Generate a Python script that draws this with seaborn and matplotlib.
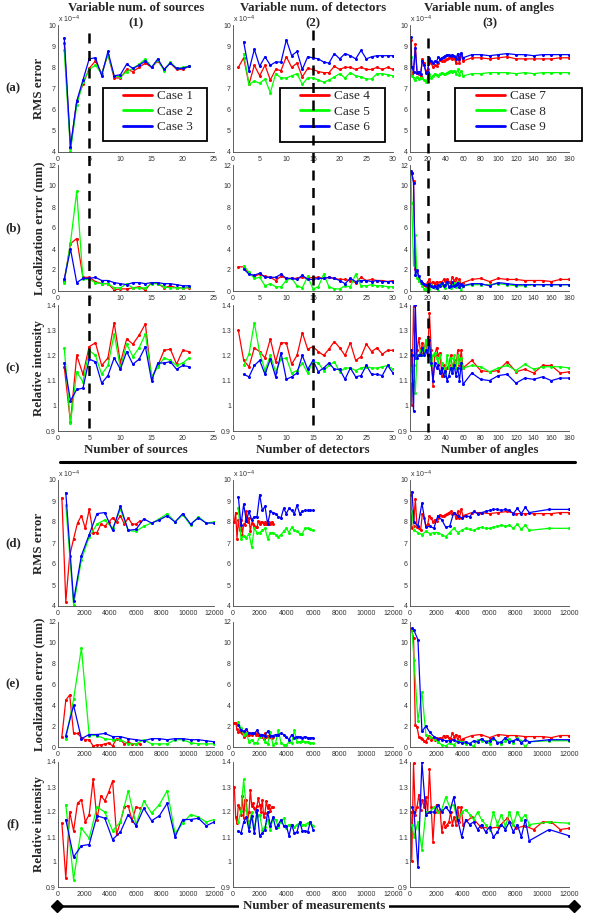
import matplotlib
matplotlib.use('Agg')
import matplotlib.pyplot as plt
import matplotlib.transforms as mtransforms
from matplotlib.lines import Line2D
from matplotlib.patches import Rectangle
from matplotlib.ticker import FuncFormatter
import numpy as np
import seaborn as sns

# ---------------- data ----------------
sources = [1, 2, 3, 4, 5, 6, 7, 8, 9, 10, 11, 12, 13, 14, 15, 16, 17, 18, 19, 20, 21]
detectors = [1, 2, 3, 4, 5, 6, 7, 8, 9, 10, 11, 12, 13, 14, 15, 16, 17, 18, 19, 20,
             21, 22, 23, 24, 25, 26, 27, 28, 29, 30]
angles = [1, 2, 4, 6, 8, 10, 12, 14, 16, 18, 20, 22, 24, 26, 28, 30, 32, 34, 36, 38, 40,
          42, 44, 46, 48, 50, 52, 54, 56, 58, 60, 70, 80, 90, 100, 110, 120, 130, 140,
          150, 160, 170, 180]

# measurements per source / detector / angle for each case
meas_per = [300, 600, 600, 100, 200, 200, 66.67, 150, 150]

# RMS error (x 1e-4)
rms_c1 = [9.15, 4.2, 6.4, 7.2, 7.95, 8.3, 7.7, 8.6, 7.5, 7.5, 7.9, 7.8, 8.0, 8.2, 8.0, 8.3, 7.9, 8.2, 7.9, 7.9, 8.05]
rms_c2 = [8.8, 4.05, 6.2, 7.3, 7.9, 8.1, 7.7, 8.6, 7.6, 7.55, 7.8, 7.95, 8.15, 8.4, 8.0, 8.35, 7.85, 8.25, 7.95, 8.0, 8.05]
rms_c3 = [9.4, 4.25, 6.4, 7.4, 8.4, 8.45, 7.6, 8.75, 7.6, 7.65, 8.15, 7.95, 8.1, 8.3, 8.0, 8.4, 7.9, 8.2, 7.95, 7.95, 8.05]
rms_c4 = [8.0, 8.45, 7.2, 8.1, 7.6, 8.1, 7.4, 7.9, 7.85, 8.5, 8.0, 8.2, 7.55, 7.95, 7.9, 7.8, 7.75, 7.75, 8.05, 7.9,
          8.0, 8.0, 7.9, 8.0, 7.9, 7.9, 8.0, 7.9, 8.0, 7.9]
rms_c5 = [8.65, 7.2, 7.35, 7.25, 7.45, 6.8, 7.7, 7.5, 7.5, 7.6, 7.7, 7.2, 7.5, 7.5, 7.4, 7.3, 7.4, 7.55, 7.7,
          7.5, 7.75, 7.6, 7.55, 7.45, 7.45, 7.7, 7.7, 7.65, 7.6]
rms_c6 = [9.2, 7.85, 8.85, 8.05, 8.5, 8.1, 8.25, 8.25, 9.3, 8.55, 8.75, 7.9, 8.5, 8.45, 8.4, 8.25, 8.2, 8.65, 8.4,
          8.65, 8.55, 8.4, 8.8, 8.4, 8.5, 8.55, 8.55, 8.55, 8.55]
rms_c7 = [9.3, 7.7, 7.8, 9.1, 7.75, 7.7, 7.6, 8.4, 8.2, 7.8, 7.9, 8.3, 8.2, 8.0, 8.1, 8.05, 8.2, 8.35, 8.3, 8.3,
          8.35, 8.4, 8.45, 8.5, 8.4, 8.45, 8.2, 8.5, 8.2, 8.6, 8.3,
          8.45, 8.45, 8.4, 8.45, 8.5, 8.4, 8.4, 8.4, 8.4, 8.4, 8.45, 8.45]
rms_c8 = [8.5, 7.6, 7.5, 7.4, 7.55, 7.45, 7.5, 7.5, 7.4, 7.3, 7.5, 7.7, 7.5, 7.6, 7.7, 7.65, 7.6, 7.7, 7.75, 7.7,
          7.7, 7.75, 7.8, 7.85, 7.8, 7.85, 7.7, 7.9, 7.65, 7.85, 7.6,
          7.7, 7.7, 7.75, 7.75, 7.75, 7.7, 7.75, 7.7, 7.75, 7.75, 7.75, 7.75]
rms_c9 = [9.45, 8.0, 7.8, 8.9, 7.75, 7.8, 7.7, 8.3, 8.1, 7.75, 7.8, 8.45, 8.3, 8.2, 8.3, 8.25, 8.5, 8.4, 8.45, 8.5,
          8.55, 8.6, 8.6, 8.55, 8.6, 8.55, 8.4, 8.65, 8.4, 8.7, 8.45,
          8.6, 8.6, 8.55, 8.6, 8.65, 8.6, 8.6, 8.55, 8.6, 8.6, 8.6, 8.6]

# localization error (mm)
loc_c1 = [1.0, 4.5, 5.0, 1.3, 1.3, 0.9, 0.7, 0.7, 0.1, 0.2, 0.2, 0.3, 0.4, 0.1, 0.8, 0.7, 0.3, 0.5, 0.3, 0.3, 0.3]
loc_c2 = [0.8, 4.6, 9.5, 1.1, 1.1, 0.8, 0.7, 0.7, 0.3, 0.3, 0.7, 0.3, 0.3, 0.3, 0.7, 0.7, 0.4, 0.3, 0.3, 0.3, 0.4]
loc_c3 = [1.1, 4.0, 0.8, 1.2, 1.2, 1.3, 1.0, 1.0, 0.8, 0.7, 0.6, 0.8, 0.8, 0.7, 0.8, 0.8, 0.7, 0.7, 0.6, 0.5, 0.5]
loc_c4 = [2.3, 2.3, 1.7, 1.4, 1.6, 1.4, 1.3, 1.0, 1.4, 1.2, 1.2, 1.2, 1.3, 1.2, 1.3, 1.3, 1.2, 1.3, 1.2, 1.1,
          1.1, 1.0, 0.8, 1.3, 1.0, 1.1, 1.0, 1.0, 0.9, 1.0]
loc_c5 = [2.4, 1.8, 1.2, 1.3, 0.5, 0.7, 0.4, 0.4, 1.0, 1.2, 0.5, 0.3, 1.4, 0.2, 0.4, 1.6, 0.4, 0.2, 0.2,
          0.5, 0.4, 1.6, 0.5, 0.5, 0.6, 0.5, 0.5, 0.4, 0.4]
loc_c6 = [2.1, 1.6, 1.5, 1.7, 1.3, 1.3, 1.3, 1.6, 1.2, 1.2, 1.1, 1.5, 1.1, 1.1, 1.2, 1.2, 1.3, 1.2, 1.0,
          0.7, 1.2, 0.9, 1.0, 1.0, 0.9, 1.0, 0.9, 0.9, 0.9]
loc_c7 = [11.3, 11.2, 10.5, 2.1, 1.9, 1.0, 0.9, 0.8, 0.6, 0.5, 0.9, 1.1, 0.7, 0.9, 0.7, 0.9, 0.5, 0.9, 0.8, 1.1,
          1.0, 1.1, 0.9, 0.8, 1.3, 1.0, 1.2, 0.7, 1.1, 0.6, 0.8,
          1.1, 1.2, 0.9, 1.2, 1.1, 1.1, 1.0, 1.0, 1.0, 0.9, 1.1, 1.1]
loc_c8 = [11.3, 8.4, 2.5, 5.3, 1.2, 1.0, 0.8, 0.5, 0.2, 0.1, 0.4, 0.2, 0.6, 0.5, 0.3, 0.4, 0.0, 0.7, 0.6, 0.6,
          0.3, 0.8, 0.5, 0.3, 0.6, 0.8, 0.4, 0.9, 0.6, 0.0, 0.5,
          0.6, 0.6, 0.6, 0.7, 0.6, 0.5, 0.5, 0.6, 0.6, 0.6, 0.6, 0.6]
loc_c9 = [11.4, 11.2, 10.3, 1.5, 2.0, 1.4, 1.0, 0.8, 0.7, 0.6, 0.6, 0.7, 0.5, 0.4, 0.5, 0.3, 0.6, 0.5, 0.8, 0.5,
          0.6, 0.9, 0.4, 0.5, 0.9, 0.5, 0.6, 0.8, 0.4, 0.7, 0.5,
          0.7, 0.7, 0.5, 0.8, 0.7, 0.6, 0.6, 0.6, 0.6, 0.6, 0.6, 0.6]

# relative intensity
int_c1 = [1.155, 0.935, 1.2, 1.125, 1.235, 1.25, 1.16, 1.19, 1.33, 1.17, 1.265, 1.245, 1.28, 1.325, 1.11, 1.16,
          1.22, 1.225, 1.165, 1.22, 1.215]
int_c2 = [1.23, 0.93, 1.135, 1.095, 1.22, 1.2, 1.125, 1.16, 1.285, 1.15, 1.245, 1.195, 1.23, 1.285, 1.115, 1.155,
          1.19, 1.18, 1.16, 1.17, 1.19]
int_c3 = [1.17, 1.02, 1.065, 1.07, 1.185, 1.175, 1.09, 1.12, 1.19, 1.145, 1.215, 1.165, 1.185, 1.235, 1.1, 1.17,
          1.17, 1.175, 1.145, 1.16, 1.155]
int_c4 = [1.30, 1.18, 1.155, 1.23, 1.215, 1.19, 1.265, 1.175, 1.25, 1.25, 1.165, 1.2, 1.29, 1.225, 1.235, 1.215,
          1.2, 1.225, 1.255, 1.23, 1.2, 1.25, 1.18, 1.195, 1.245, 1.215, 1.23, 1.205, 1.22, 1.22]
int_c5 = [1.16, 1.205, 1.33, 1.21, 1.14, 1.2, 1.135, 1.185, 1.19, 1.13, 1.14, 1.17, 1.13, 1.175, 1.17, 1.14,
          1.16, 1.175, 1.135, 1.15, 1.15, 1.14, 1.15, 1.155, 1.15, 1.15, 1.155, 1.16, 1.145]
int_c6 = [1.125, 1.115, 1.16, 1.18, 1.125, 1.185, 1.115, 1.21, 1.105, 1.115, 1.13, 1.2, 1.145, 1.18, 1.135, 1.15,
          1.17, 1.145, 1.145, 1.105, 1.15, 1.115, 1.12, 1.16, 1.125, 1.125, 1.12, 1.16, 1.13]
int_c7 = [1.2, 1.005, 1.395, 1.19, 1.22, 1.27, 1.21, 1.25, 1.22, 1.26, 1.2, 1.37, 1.22, 1.08, 1.2, 1.23, 1.2, 1.21,
          1.12, 1.16, 1.14, 1.15, 1.16, 1.2, 1.15, 1.18, 1.15, 1.22, 1.16, 1.22, 1.15,
          1.18, 1.14, 1.135, 1.14, 1.175, 1.135, 1.145, 1.13, 1.16, 1.16, 1.13, 1.135]
int_c8 = [1.15, 1.1, 1.16, 1.05, 1.2, 1.2, 1.22, 1.2, 1.21, 1.26, 1.22, 1.23, 1.16, 1.2, 1.21, 1.19, 1.17, 1.2,
          1.17, 1.15, 1.13, 1.2, 1.15, 1.19, 1.14, 1.2, 1.15, 1.2, 1.17, 1.19, 1.15,
          1.16, 1.155, 1.135, 1.15, 1.16, 1.14, 1.165, 1.145, 1.155, 1.155, 1.155, 1.15]
int_c9 = [1.22, 1.2, 0.98, 1.4, 1.19, 1.2, 1.2, 1.23, 1.2, 1.22, 1.2, 1.26, 1.17, 1.1, 1.17, 1.15, 1.16, 1.13,
          1.15, 1.12, 1.14, 1.1, 1.12, 1.15, 1.13, 1.16, 1.12, 1.15, 1.1, 1.17, 1.085,
          1.13, 1.105, 1.1, 1.12, 1.125, 1.09, 1.11, 1.105, 1.115, 1.1, 1.11, 1.11]

case_labels = ['Case 1', 'Case 2', 'Case 3', 'Case 4', 'Case 5', 'Case 6', 'Case 7', 'Case 8', 'Case 9']
case_colors = ['#ff0000', '#00ff00', '#0000ff'] * 3
case_x = [sources, sources, sources, detectors, detectors[1:], detectors[1:], angles, angles, angles]
rms = [rms_c1, rms_c2, rms_c3, rms_c4, rms_c5, rms_c6, rms_c7, rms_c8, rms_c9]
loc = [loc_c1, loc_c2, loc_c3, loc_c4, loc_c5, loc_c6, loc_c7, loc_c8, loc_c9]
inten = [int_c1, int_c2, int_c3, int_c4, int_c5, int_c6, int_c7, int_c8, int_c9]

col_titles = ['Variable num. of sources', 'Variable num. of detectors', 'Variable num. of angles']
col_nums = ['(1)', '(2)', '(3)']
col_xlabels = ['Number of sources', 'Number of detectors', 'Number of angles']
col_xlim = [(0, 25), (0, 30), (0, 180)]
col_xticks = [[0, 5, 10, 15, 20, 25], [0, 5, 10, 15, 20, 25, 30], [0, 20, 40, 60, 80, 100, 120, 140, 160, 180]]
col_vline = [5, 15, 20]
meas_ticks = [0, 2000, 4000, 6000, 8000, 10000, 12000]

row_names = ['RMS error', 'Localization error (mm)', 'Relative intensity']
row_ylim = [(4, 10), (0, 12), (0.9, 1.4)]
row_yticks = [[4, 5, 6, 7, 8, 9, 10], [0, 2, 4, 6, 8, 10, 12], [0.9, 1.0, 1.1, 1.2, 1.3, 1.4]]

# ---------------- layout ----------------
W, H = 600, 923
sns.set_style('white')
plt.rcParams['font.family'] = ['Liberation Sans', 'DejaVu Sans']
SERIF = 'Liberation Serif'
BIG = 9.3

fig = plt.figure(figsize=(W / 100, H / 100), dpi=100)


def add_ax(left, top, width, height):
    return fig.add_axes([left / W, 1 - (top + height) / H, width / W, height / H])


def style(ax):
    sns.despine(ax=ax)
    for s in ['left', 'bottom']:
        ax.spines[s].set_color('#444444')
        ax.spines[s].set_linewidth(0.6)
    ax.tick_params(direction='in', length=2, width=0.5, labelsize=5.0, colors='#333333', pad=1.5)
    ax.tick_params(axis='x', pad=3)
    ax.yaxis.set_major_formatter(FuncFormatter(lambda v, p: '%g' % round(v, 2)))
    ax.patch.set_alpha(0)


col_left = [58, 233, 410]
col_width = [156, 160, 159]
top_rows = [(25, 127), (165, 126), (305, 126)]
bot_rows = [(480, 126), (622, 125), (762, 125)]
# legend boxes (left, top, right, bottom) in pixels and where the handles start
leg_box = [(103, 88, 207, 141), (280, 88, 385, 142), (455, 88, 582, 141)]
leg_handle_x = [123, 300, 476]

for c in range(3):
    cases = [3 * c, 3 * c + 1, 3 * c + 2]
    for r, series in enumerate([rms, loc, inten]):
        for block, rows in enumerate([top_rows, bot_rows]):
            top, h = rows[r]
            ax = add_ax(col_left[c], top, col_width[c], h)
            for k in cases:
                xs = np.asarray(case_x[k], dtype=float)
                if block == 1:
                    xs = xs * meas_per[k]
                sns.lineplot(x=xs, y=series[k], ax=ax, color=case_colors[k], lw=0.9,
                             marker='o', markersize=2.2, markeredgewidth=0, estimator=None, sort=False)
            ax.set_ylim(*row_ylim[r])
            ax.set_yticks(row_yticks[r])
            if block == 0:
                ax.set_xlim(*col_xlim[c])
                ax.set_xticks(col_xticks[c])
            else:
                ax.set_xlim(0, 12000)
                ax.set_xticks(meas_ticks)
            ax.set_xlabel('')
            ax.set_ylabel('')
            style(ax)
            if r == 0:
                ax.text(0.0, 1.0, r'x 10$^{-4}$', transform=ax.transAxes, ha='left', va='bottom',
                        fontsize=5, color='#333333')
            if block == 0 and r == 0:
                x0, y0, x1, y1 = leg_box[c]
                box = Rectangle((x0 / W, 1 - y1 / H), (x1 - x0) / W, (y1 - y0) / H,
                                transform=fig.transFigure, facecolor='white', edgecolor='black',
                                lw=1.3, zorder=5, clip_on=False)
                ax.add_patch(box)
                handles = [Line2D([], [], color=case_colors[k], lw=2) for k in cases]
                leg = ax.legend(handles, [case_labels[k] for k in cases], loc='upper left',
                                bbox_to_anchor=(leg_handle_x[c] / W, 1 - (y0 + 2) / H),
                                bbox_transform=fig.transFigure,
                                prop={'family': SERIF, 'size': 9.5}, frameon=False,
                                handlelength=2.2, borderpad=0, labelspacing=0.25,
                                handletextpad=0.4, borderaxespad=0)
                leg.set_zorder(6)
                # dashed vertical marker through rows a-c
                trans = mtransforms.blended_transform_factory(ax.transData, fig.transFigure)
                ys = [33, 30, 38][c]
                fig.add_artist(Line2D([col_vline[c], col_vline[c]], [1 - ys / H, 1 - 432 / H],
                                      transform=trans, color='black', lw=1.8, ls=(0, (4, 3))))

    # column titles and x labels
    cx = col_left[c] + col_width[c] / 2
    fig.text(cx / W, 1 - 8 / H, col_titles[c], ha='center', va='center', family=SERIF,
             fontweight='bold', fontsize=BIG)
    fig.text(cx / W, 1 - 23 / H, col_nums[c], ha='center', va='center', family=SERIF,
             fontweight='bold', fontsize=BIG)
    fig.text(cx / W, 1 - 450 / H, col_xlabels[c], ha='center', va='center', family=SERIF,
             fontweight='bold', fontsize=BIG)

# row labels and y labels
for block, rows in enumerate([top_rows, bot_rows]):
    for r in range(3):
        top, h = rows[r]
        yc = 1 - (top + h / 2) / H
        fig.text(13 / W, yc, '(%s)' % 'abcdef'[block * 3 + r], ha='center', va='center',
                 family=SERIF, fontweight='bold', fontsize=BIG)
        fig.text(39 / W, yc, row_names[r], ha='center', va='center', rotation=90,
                 family=SERIF, fontweight='bold', fontsize=BIG)

# separator between the two blocks
fig.add_artist(Line2D([60 / W, 575 / W], [1 - 462 / H, 1 - 462 / H], transform=fig.transFigure,
                      color='black', lw=2.2))
# measurement axis arrow
yb = 1 - 906 / H
fig.add_artist(Line2D([57 / W, 574 / W], [yb, yb], transform=fig.transFigure, color='black', lw=1.8))
fig.add_artist(Line2D([57 / W, 574 / W], [yb, yb], transform=fig.transFigure, color='black', lw=0,
                      marker='D', markersize=6))
fig.text(314 / W, yb, 'Number of measurements', ha='center', va='center', family=SERIF,
         fontweight='bold', fontsize=BIG,
         bbox=dict(facecolor='white', edgecolor='none', pad=3))

fig.savefig('out.png', dpi=100)
